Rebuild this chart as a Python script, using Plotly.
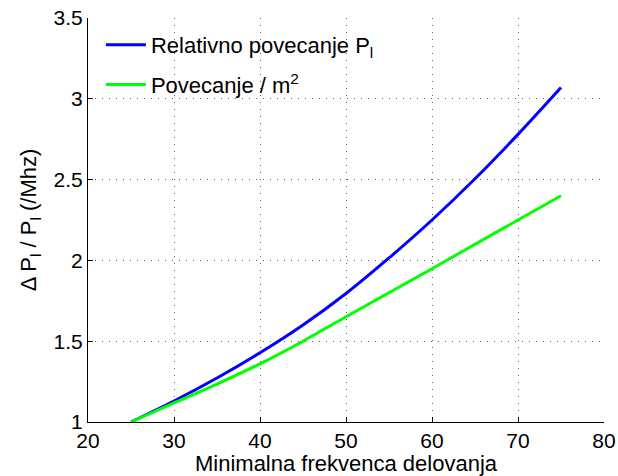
import plotly.graph_objects as go

x_vals = [25, 30, 35, 40, 45, 50, 55, 60, 65, 70, 75]
relativno = [1.0, 1.13, 1.272, 1.428, 1.60, 1.795, 2.015, 2.25, 2.505, 2.78, 3.07]
po_m2 = [1.0, 1.118, 1.235, 1.36, 1.50, 1.651, 1.80, 1.948, 2.10, 2.25, 2.40]

x_ticks = [20, 30, 40, 50, 60, 70, 80]
y_ticks = [1, 1.5, 2, 2.5, 3, 3.5]
y_ticklabels = ["1", "1.5", "2", "2.5", "3", "3.5"]

font_family = "Liberation Sans, Arial, sans-serif"
fs = 21
fs_big = 22

fig = go.Figure()
fig.add_trace(go.Scatter(x=x_vals, y=relativno, mode="lines",
                         line=dict(color="#0000FF", width=3, shape="spline", smoothing=0.8),
                         name="Relativno povecanje P<sub>l</sub>", legendgroup="a"))
fig.add_trace(go.Scatter(x=x_vals, y=po_m2, mode="lines",
                         line=dict(color="#00FF00", width=3, shape="spline", smoothing=0.8),
                         name="Povecanje / m<sup>2</sup>", legendgroup="b"))

axis_common = dict(
    showline=True, linecolor="black", linewidth=1, mirror=False,
    ticks="inside", ticklen=5, tickcolor="black",
    showgrid=True, gridcolor="#666666", gridwidth=1, griddash="1px,6px",
    zeroline=False, automargin=False,
    tickfont=dict(family=font_family, size=fs, color="black"),
)

fig.update_layout(
    width=618, height=476,
    margin=dict(l=88, r=14, t=18, b=54),
    paper_bgcolor="white", plot_bgcolor="white",
    font=dict(family=font_family, size=fs, color="black"),
    xaxis=dict(range=[20, 80], tickvals=x_ticks,
               title=dict(text="Minimalna frekvenca delovanja",
                          font=dict(family=font_family, size=fs_big), standoff=0),
               **axis_common),
    yaxis=dict(range=[1, 3.5], tickvals=y_ticks, ticktext=y_ticklabels,
               title=dict(text="Δ P<sub>l</sub> / P<sub>l</sub> (/Mhz)",
                          font=dict(family=font_family, size=fs_big), standoff=10),
               **axis_common),
    legend=dict(x=0.025, y=0.985, xanchor="left", yanchor="top",
                bgcolor="rgba(255,255,255,0)", borderwidth=0,
                font=dict(family=font_family, size=fs_big, color="black"),
                tracegroupgap=8, itemwidth=40),
    showlegend=True,
)

fig.write_html("out.html", config={"displayModeBar": False},
               post_script="document.body.style.margin='0';")
